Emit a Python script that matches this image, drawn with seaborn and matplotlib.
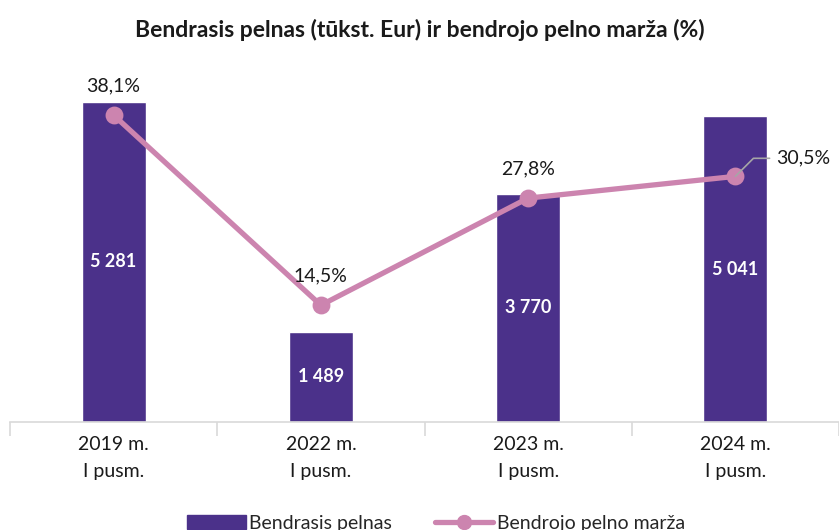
import numpy as np
import pandas as pd
import seaborn as sns
import matplotlib.pyplot as plt
from matplotlib.lines import Line2D
from matplotlib.patches import Patch

# chart data
periods = ["2019 m.\nI pusm.", "2022 m.\nI pusm.", "2023 m.\nI pusm.", "2024 m.\nI pusm."]
gross_profit = [5281, 1489, 3770, 5041]          # tūkst. Eur
gross_margin = [38.1, 14.5, 27.8, 30.5]          # %
profit_labels = ["5 281", "1 489", "3 770", "5 041"]
margin_labels = ["38,1%", "14,5%", "27,8%", "30,5%"]

BAR_COLOR = "#4B318A"
LINE_COLOR = "#CC84AF"

sns.set_theme(style="white")
plt.rcParams["font.family"] = ["Lato", "DejaVu Sans"]

df = pd.DataFrame({"period": periods, "profit": gross_profit, "margin": gross_margin})

fig = plt.figure(figsize=(8.39, 5.30), dpi=100)
ax = fig.add_axes([10 / 839, 108 / 530, 829 / 839, 360 / 530])

sns.barplot(data=df, x="period", y="profit", color=BAR_COLOR, width=0.31,
            saturation=1, ax=ax)
ax.set_ylim(0, 5940)

ax2 = ax.twinx()
sns.pointplot(data=df, x="period", y="margin", color=LINE_COLOR, ax=ax2,
              markers="o", linewidth=3.8, markersize=10)
ax2.set_ylim(0, 44.7)
ax.set_xlim(-0.5, 3.5)
ax2.set_xlim(-0.5, 3.5)

# bar value labels
for i, (v, lab) in enumerate(zip(gross_profit, profit_labels)):
    ax.text(i, v / 2, lab, ha="center", va="center", color="white",
            fontsize=13, fontweight="bold")

# line value labels
for i, (v, lab) in enumerate(zip(gross_margin, margin_labels)):
    if i == 3:
        continue
    ax2.annotate(lab, (i, v), xytext=(0, 15), textcoords="offset points",
                 ha="center", va="bottom", fontsize=14, color="#1a1a1a")
ax2.annotate(margin_labels[3], (3, gross_margin[3]), xytext=(29, 13),
             textcoords="offset points", ha="left", va="center", fontsize=14,
             color="#1a1a1a",
             arrowprops=dict(arrowstyle="-", color="#A6A6A6", lw=1.2,
                             connectionstyle="angle,angleA=0,angleB=45,rad=0",
                             shrinkA=2, shrinkB=0))

# axes styling
for a in (ax, ax2):
    for s in ("top", "right", "left"):
        a.spines[s].set_visible(False)
    a.set_ylabel("")
    a.set_xlabel("")
    a.set_yticks([])
ax2.spines["bottom"].set_visible(False)
ax.spines["bottom"].set_color("#D9D9D9")
ax.spines["bottom"].set_linewidth(1.2)
ax.set_xticks(range(4))
ax.set_xticklabels(periods, fontsize=14, color="#1a1a1a", linespacing=1.75)
ax.tick_params(axis="x", which="major", length=0, pad=10)
ax.set_xticks(np.arange(-0.5, 4, 1), minor=True)
ax.tick_params(axis="x", which="minor", length=10, color="#D9D9D9", width=1.2,
               bottom=True)

fig.text(0.5, 1 - 30 / 530, "Bendrasis pelnas (tūkst. Eur) ir bendrojo pelno marža (%)",
         ha="center", va="center", fontsize=16.5, fontweight="bold", color="#1a1a1a")

handles = [Patch(color=BAR_COLOR, label="Bendrasis pelnas"),
           Line2D([], [], color=LINE_COLOR, lw=3.8, marker="o", markersize=10,
                  label="Bendrojo pelno marža")]
fig.legend(handles=handles, loc="center", bbox_to_anchor=(0.52, 7 / 530), ncol=2,
           frameon=False, fontsize=14, handlelength=3.0, handletextpad=0.2,
           columnspacing=2.2)

fig.savefig("out.png", dpi=100)
